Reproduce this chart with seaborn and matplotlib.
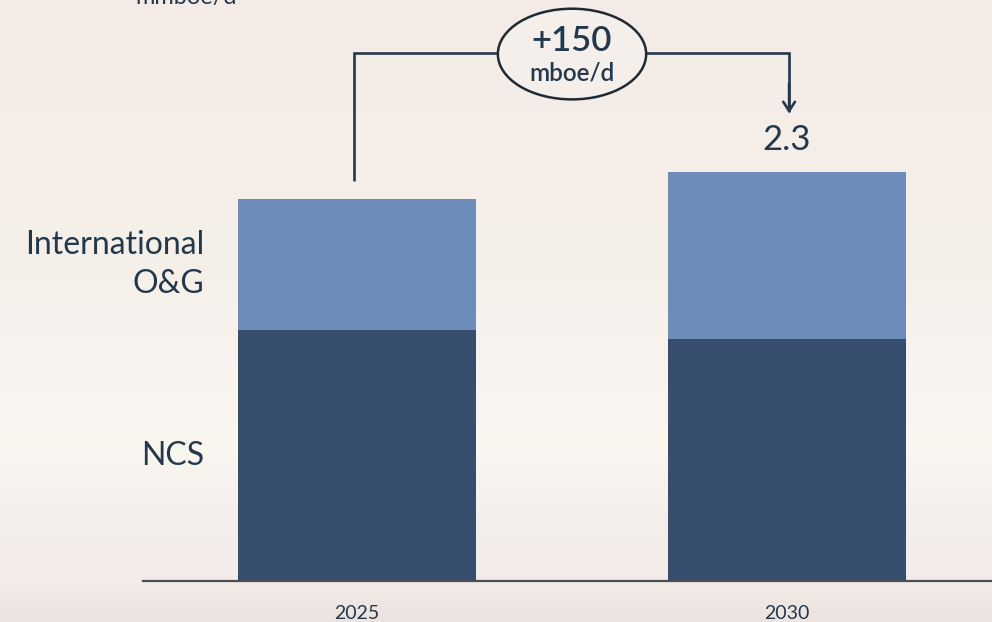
import numpy as np
import pandas as pd
import matplotlib
matplotlib.use("Agg")
import matplotlib.pyplot as plt
from matplotlib.patches import Ellipse
from matplotlib.colors import LinearSegmentedColormap
import seaborn as sns

# Production outlook, mmboe/d
years = ["2025", "2030"]
ncs = [1.41, 1.36]
international = [0.74, 0.94]
growth_label = "+150"
total_2030_label = "2.3"
segment_names = ["International\nO&G", "NCS"]
unit = "mmboe/d"

DARK = "#374D6D"
LIGHT = "#6E8CB8"
INK = "#24384B"

sns.set_theme(style="white")
plt.rcParams["font.family"] = ["Lato", "DejaVu Sans"]

df = pd.DataFrame({"year": years, "NCS": ncs, "International": international})
df["total"] = df["NCS"] + df["International"]

fig = plt.figure(figsize=(9.92, 6.22), dpi=100)

# soft sky-like backdrop
bg = fig.add_axes([0, 0, 1, 1], zorder=0)
bg.set_axis_off()
cmap = LinearSegmentedColormap.from_list(
    "sky",
    [(0.0, "#F4EBE6"), (0.45, "#F6F0EB"), (0.72, "#FAF6F0"),
     (0.84, "#F4EFEC"), (0.93, "#F3ECE8"), (1.0, "#ECE3E1")],
)
grad = np.linspace(0, 1, 400).reshape(-1, 1)
bg.imshow(grad, aspect="auto", cmap=cmap, extent=[0, 1, 0, 1], origin="upper")
bg.set_xlim(0, 1)
bg.set_ylim(0, 1)

ax = fig.add_axes([143 / 992, 41 / 622, 849 / 992, 581 / 622], zorder=1)
ax.patch.set_alpha(0)

sns.barplot(data=df, x="year", y="total", color=LIGHT, width=0.553,
            saturation=1, ax=ax, order=years, linewidth=0)
sns.barplot(data=df, x="year", y="NCS", color=DARK, width=0.553,
            saturation=1, ax=ax, order=years, linewidth=0)

ax.set_xlim(-0.498, 1.477)
ax.set_ylim(0, 3.268)
ax.set_xlabel("")
ax.set_ylabel("")
ax.set_yticks([])
for side in ["top", "right", "left"]:
    ax.spines[side].set_visible(False)
ax.spines["bottom"].set_color("#4A4F55")
ax.spines["bottom"].set_linewidth(1.6)
ax.tick_params(axis="x", length=0, pad=17, labelsize=14, labelcolor=INK)

# segment labels beside the first bar
lbl_x = -0.356
ax.text(lbl_x, df["NCS"][0] + df["International"][0] / 2, segment_names[0],
        ha="right", va="center", fontsize=23, color=INK, linespacing=1.4)
ax.text(lbl_x, df["NCS"][0] / 2, segment_names[1],
        ha="right", va="center", fontsize=23, color=INK)

# growth bracket
t0, t1 = df["total"][0], df["total"][1]
top = 2.97
lw = 1.9
ax.plot([-0.007, -0.007, 0.5], [t0 + 0.1, top, top], color=INK, lw=lw,
        solid_capstyle="butt", solid_joinstyle="miter", clip_on=False)
ax.plot([0.5, 1.005, 1.005], [top, top, t1 + 0.34], color=INK, lw=lw,
        solid_capstyle="butt", solid_joinstyle="miter", clip_on=False)
ax.annotate("", xy=(1.005, t1 + 0.33), xytext=(1.005, t1 + 0.5),
            arrowprops=dict(arrowstyle="->,head_length=0.55,head_width=0.35",
                            color=INK, lw=lw, shrinkA=0, shrinkB=0))
ax.add_patch(Ellipse((0.5, 2.964), 0.345, 0.51, facecolor="#F4EFEB",
                     edgecolor="#1E2A33", lw=1.8, zorder=5, clip_on=False))
ax.text(0.5, 3.04, growth_label, ha="center", va="center", fontsize=25,
        color=INK, fontweight="semibold", zorder=6)
ax.text(0.5, 2.86, "mboe/d", ha="center", va="center", fontsize=17.5,
        color=INK, fontweight="semibold", zorder=6)

ax.text(1.0, t1 + 0.09, total_2030_label, ha="center", va="bottom",
        fontsize=25, color=INK)

# unit caption running off the top edge
fig.text(135 / 992, 1 - 4 / 622, unit, ha="left", va="baseline",
         fontsize=17, color=INK)

fig.savefig("out.png", dpi=100)
